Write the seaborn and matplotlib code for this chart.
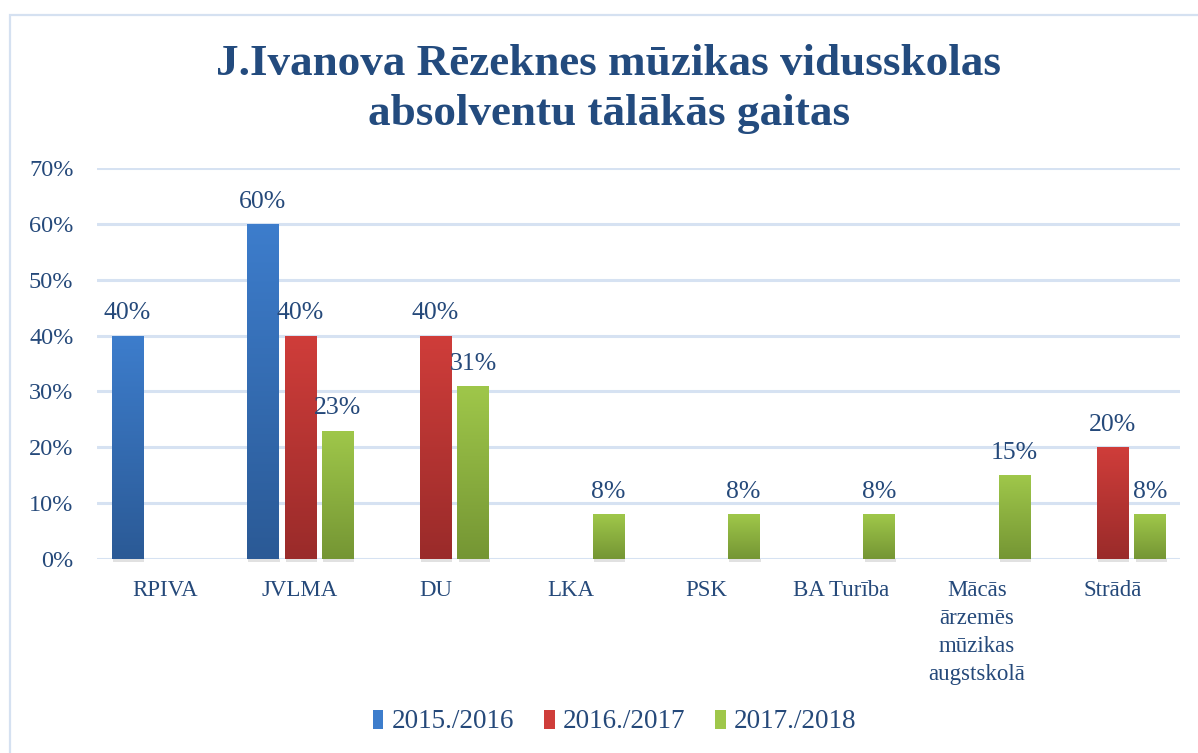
import numpy as np
import pandas as pd
import matplotlib
matplotlib.use("Agg")
import matplotlib.pyplot as plt
import seaborn as sns
from matplotlib.patches import Rectangle, Patch
from matplotlib.colors import to_rgb

# ---- data ----
categories = ["RPIVA", "JVLMA", "DU", "LKA", "PSK", "BA Turība",
              "Mācās\nārzemēs\nmūzikas\naugstskolā", "Strādā"]
years = ["2015./2016", "2016./2017", "2017./2018"]
v_2015 = [40, 60, 0, 0, 0, 0, 0, 0]
v_2016 = [0, 40, 40, 0, 0, 0, 0, 20]
v_2017 = [0, 23, 31, 8, 8, 8, 15, 8]
yticks = [0, 10, 20, 30, 40, 50, 60, 70]
title = "J.Ivanova Rēzeknes mūzikas vidusskolas\nabsolventu tālākās gaitas"

# gradient colours (top, bottom)
grad_cols = {
    "2015./2016": ("#3D7DCC", "#2B5A96"),
    "2016./2017": ("#CF3D3A", "#9A2B2A"),
    "2017./2018": ("#9FC74A", "#759634"),
}
text_col = "#25497A"
grid_col = "#D6E2F2"

df = pd.DataFrame({
    "kategorija": categories * 3,
    "gads": [years[0]] * 8 + [years[1]] * 8 + [years[2]] * 8,
    "vertiba": v_2015 + v_2016 + v_2017,
})

sns.set_theme(style="white")
plt.rcParams["font.family"] = ["Liberation Serif", "DejaVu Serif"]

fig = plt.figure(figsize=(11.98, 7.53), dpi=100)
ax = fig.add_axes([97 / 1198, 1 - 559 / 753, (1180 - 97) / 1198, (559 - 168) / 753])

palette = {y: grad_cols[y][0] for y in years}
sns.barplot(data=df, x="kategorija", y="vertiba", hue="gads", hue_order=years,
            order=categories, palette=palette, width=0.83, gap=0.17,
            ax=ax, legend=False, saturation=1)

ax.set_ylim(0, 70)
ax.set_xlim(-0.5, len(categories) - 0.5)
ax.set_yticks(yticks)
ax.set_yticklabels([f"{t}%" for t in yticks])
ax.yaxis.grid(True, color=grid_col, lw=2.2)
ax.set_axisbelow(True)
for s in ax.spines.values():
    s.set_visible(False)
ax.tick_params(axis="y", length=0, pad=17, labelsize=17.5, labelcolor=text_col)
ax.tick_params(axis="x", length=0, pad=15, labelsize=16.5, labelcolor=text_col)
for lab in ax.get_xticklabels():
    lab.set_linespacing(1.45)
    lab.set_verticalalignment("top")
ax.set_xlabel("")
ax.set_ylabel("")

# gradient fills + labels
for container, yr in zip(ax.containers, years):
    top, bot = grad_cols[yr]
    ctop, cbot = np.array(to_rgb(top)), np.array(to_rgb(bot))
    for bar in container:
        h = bar.get_height()
        if h <= 0:
            bar.set_visible(False)
            continue
        x, w = bar.get_x(), bar.get_width()
        t = np.linspace(1, 0, 64)[:, None]
        img = (ctop[None, :] * t + cbot[None, :] * (1 - t))[:, None, :]
        im = ax.imshow(img, extent=[x, x + w, 0, h], aspect="auto",
                       zorder=3, interpolation="bilinear")
        im.set_clip_path(bar)
        bar.set_facecolor("none")
        bar.set_edgecolor("none")
        # soft shadow
        ax.add_patch(Rectangle((x + 0.01, -0.55), w, 0.55, facecolor="#888888",
                               alpha=0.25, edgecolor="none", zorder=2, clip_on=False))
        ax.annotate(f"{int(h)}%", (x + w / 2, h), xytext=(0, 8),
                    textcoords="offset points", ha="center", va="bottom",
                    fontsize=18.5, color=text_col)

ax.set_xlim(-0.5, len(categories) - 0.5)
ax.set_ylim(0, 70)

# title
fig.text(0.508, 1 - 89 / 753, title, ha="center", va="center", fontsize=32.5,
         fontweight="bold", color="#234B7E", linespacing=1.3)

# legend
handles = [Patch(facecolor=grad_cols[y][0], edgecolor="none") for y in years]
fig.legend(handles, years, loc="center", bbox_to_anchor=(0.513, 1 - 722 / 753),
           ncol=3, frameon=False, fontsize=19.5, handlelength=0.4, handleheight=0.7,
           handletextpad=0.3, columnspacing=1.1, labelcolor=text_col)

# outer chart frame
fig.patches.append(Rectangle((10 / 1198, -0.1), 1.2, 1.1 - 15 / 753,
                             transform=fig.transFigure, fill=False,
                             edgecolor="#D5E1F1", lw=1.6, zorder=0))

fig.savefig("out.png", dpi=100)
